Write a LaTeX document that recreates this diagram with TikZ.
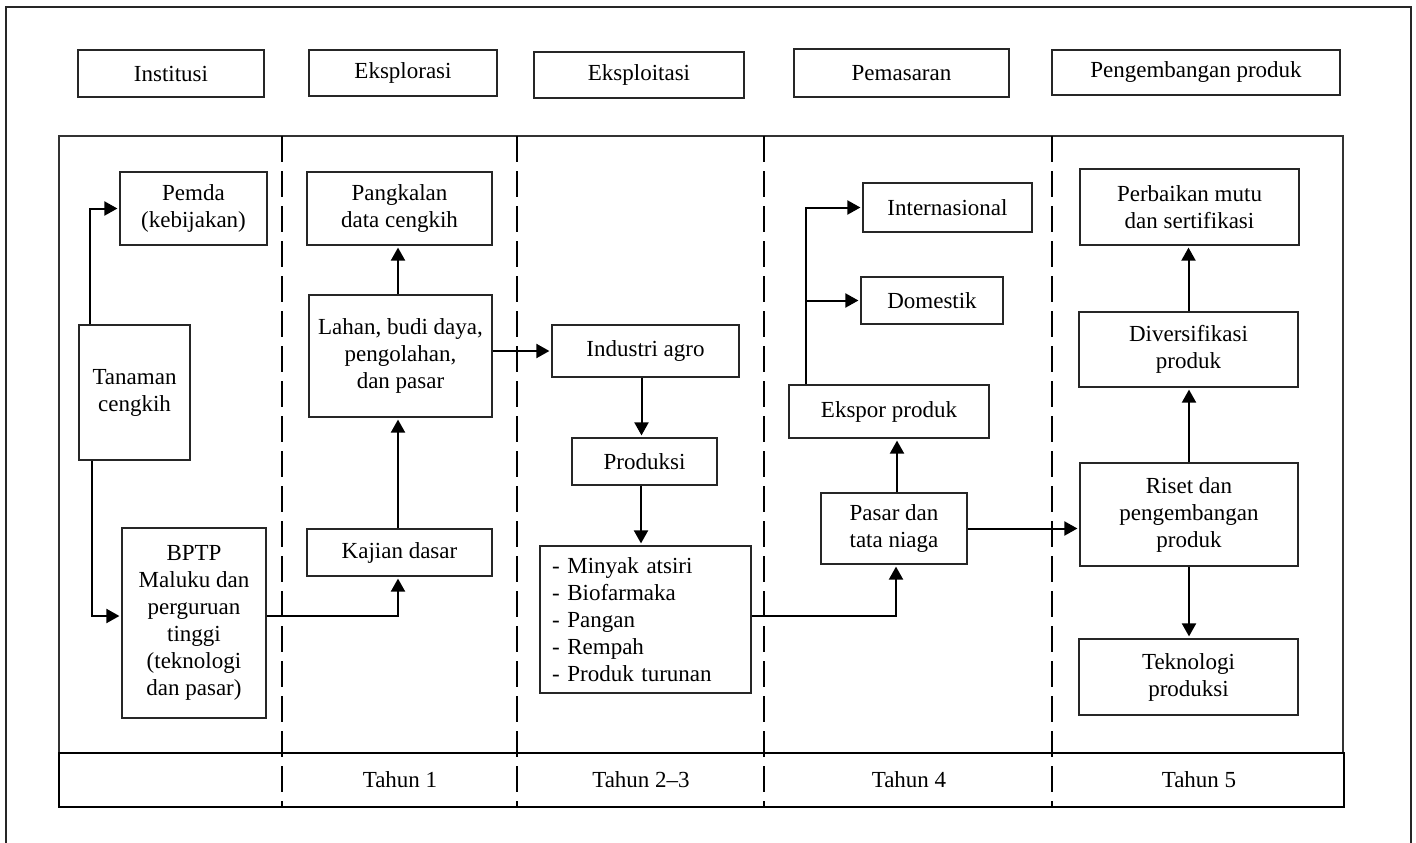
\documentclass[tikz,border=0pt]{standalone}
\usepackage{fontspec}
\setmainfont{Liberation Serif}
\usetikzlibrary{arrows.meta,calc}
\begin{document}
\begin{tikzpicture}[x=1pt,y=-1pt,
  box/.style={draw=black!85, line width=1.2pt, align=center, inner sep=0pt, font=\fontsize{23}{27}\selectfont},
  arr/.style={line width=2pt, -{Triangle[length=13pt,width=14pt]}, shorten >=2pt},
  sepline/.style={line width=2.7pt, dash pattern=on 26pt off 9pt},
  lbl/.style={font=\fontsize{23}{27}\selectfont}]
\useasboundingbox (0,0) rectangle (1416,843);
% outer frame
\draw[line width=1.2pt, black!85] (6,843) -- (6,7) -- (1411,7) -- (1411,843);
% inner frame
\draw[line width=1.2pt, black!80] (59,753) -- (59,136) -- (1343,136) -- (1343,753);
% year row
\draw[line width=2.4pt] (59,753) rectangle (1344,807);
% column separators
\foreach \xx in {282,517,764,1052} \draw[sepline] (\xx,136) -- (\xx,807);
% headers
\node[box, minimum width=186pt, minimum height=47pt] (hInst) at (171,73.5) {Institusi};
\node[box, minimum width=188pt, minimum height=46pt] (hEksplor) at (403,73) {Eksplorasi};
\node[box, minimum width=210pt, minimum height=46pt] (hEksploit) at (639,75) {Eksploitasi};
\node[box, minimum width=215pt, minimum height=48pt] (hPemas) at (901.5,73) {Pemasaran};
\node[box, minimum width=288pt, minimum height=45pt] (hPeng) at (1196,72.5) {Pengembangan produk};
% body nodes
\node[box, minimum width=147pt, minimum height=73pt] (pemda) at (193.5,208.5) {Pemda\\(kebijakan)};
\node[box, minimum width=111pt, minimum height=135pt] (tanaman) at (134.5,392.5) {Tanaman\\cengkih};
\node[box, minimum width=144pt, minimum height=190pt] (bptp) at (194,623) {BPTP\\Maluku dan\\perguruan\\tinggi\\(teknologi\\dan pasar)};
\node[box, minimum width=185pt, minimum height=73pt] (pangkalan) at (399.5,208.5) {Pangkalan\\data cengkih};
\node[box, minimum width=183pt, minimum height=122pt] (lahan) at (400.5,356) {Lahan, budi daya,\\pengolahan,\\dan pasar};
\node[box, minimum width=185pt, minimum height=47pt] (kajian) at (399.5,552.5) {Kajian dasar};
\node[box, minimum width=187pt, minimum height=52pt] (industri) at (645.5,351) {Industri agro};
\node[box, minimum width=145pt, minimum height=47pt] (produksi) at (644.5,461.5) {Produksi};
\node[box, align=left, text width=187pt, inner xsep=12pt, minimum height=147pt] (minyak) at (645.5,619.5) {- Minyak atsiri\\- Biofarmaka\\- Pangan\\- Rempah\\- Produk turunan};
\node[box, minimum width=169pt, minimum height=49pt] (intl) at (947.5,207.5) {Internasional};
\node[box, minimum width=142pt, minimum height=47pt] (dom) at (932,300.5) {Domestik};
\node[box, minimum width=200pt, minimum height=53pt] (ekspor) at (889,411.5) {Ekspor produk};
\node[box, minimum width=146pt, minimum height=71pt] (pasar) at (894,528.5) {Pasar dan\\tata niaga};
\node[box, minimum width=219pt, minimum height=76pt] (perbaikan) at (1189.5,207) {Perbaikan mutu\\dan sertifikasi};
\node[box, minimum width=219pt, minimum height=75pt] (divers) at (1188.5,349.5) {Diversifikasi\\produk};
\node[box, minimum width=218pt, minimum height=103pt] (riset) at (1189,514.5) {Riset dan\\pengembangan\\produk};
\node[box, minimum width=219pt, minimum height=76pt] (tekno) at (1188.5,677) {Teknologi\\produksi};
% year labels
\node[lbl] (t1) at (400,780) {Tahun 1};
\node[lbl] (t23) at (641,780) {Tahun 2--3};
\node[lbl] (t4) at (909,780) {Tahun 4};
\node[lbl] (t5) at (1199,780) {Tahun 5};
% connectors
\coordinate (br) at (806,300.5);
\draw[arr] ([xshift=-44.5pt]tanaman.north) |- (pemda.west);
\draw[arr] ([xshift=-42.5pt]tanaman.south) |- ([yshift=7pt]bptp.west);
\draw[arr] ([yshift=7pt]bptp.east) -| ([xshift=-1.5pt]kajian.south);
\draw[arr] ([xshift=-1.5pt]kajian.north) -- ([xshift=-1.5pt]kajian.north |- lahan.south);
\draw[arr] ([xshift=-2.5pt]lahan.north) -- ([xshift=-2.5pt]lahan.north |- pangkalan.south);
\draw[arr] (lahan.east |- industri.west) -- (industri.west);
\draw[arr] ([xshift=-4pt]industri.south) -- ([xshift=-4pt]industri.south |- produksi.north);
\draw[arr] ([xshift=-3.5pt]produksi.south) -- ([xshift=-3.5pt]produksi.south |- minyak.north);
\draw[arr] ([yshift=3.5pt]minyak.east) -| ([xshift=2pt]pasar.south);
\draw[arr] ([xshift=3pt]pasar.north) -- ([xshift=3pt]pasar.north |- ekspor.south);
\draw[arr] ([xshift=-83pt]ekspor.north) |- (intl.west);
\draw[arr] (br) -- (br -| dom.west);
\draw[arr] (pasar.east) -- (pasar.east -| riset.west);
\draw[arr] (riset.north) -- (riset.north |- divers.south);
\draw[arr] (divers.north) -- (divers.north |- perbaikan.south);
\draw[arr] (riset.south) -- (riset.south |- tekno.north);
\end{tikzpicture}
\end{document}
